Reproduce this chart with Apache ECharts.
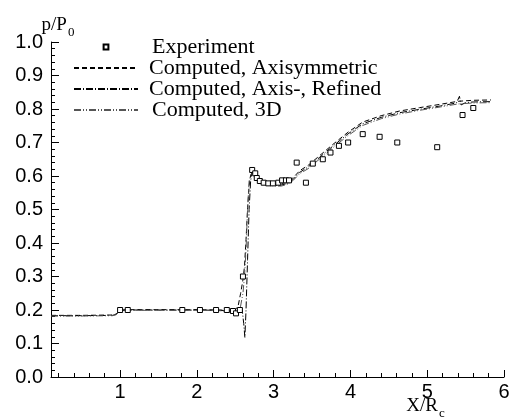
<!DOCTYPE html>
<html>
<head>
<meta charset="utf-8">
<script src="https://cdn.jsdelivr.net/npm/echarts@6/dist/echarts.min.js"></script>
<style>html,body{margin:0;padding:0;background:#fff}#c{width:514px;height:419px}</style>
</head>
<body>
<div id="c"></div>
<script>
// ---- data ----
var xMajorTicks = [1, 2, 3, 4, 5, 6];
var xMinorTicks = [0.2,0.4,0.6,0.8,1.2,1.4,1.6,1.8,2.2,2.4,2.6,2.8,3.2,3.4,3.6,3.8,4.2,4.4,4.6,4.8,5.2,5.4,5.6,5.8];
var seriesNames = ['Experiment', 'Computed, Axisymmetric', 'Computed, Axis-, Refined', 'Computed, 3D'];

var experiment = [
  [1.0,0.2],[1.1,0.2],[1.81,0.2],[2.04,0.2],[2.25,0.2],[2.39,0.2],[2.47,0.197],[2.51,0.19],[2.56,0.2],[2.6,0.3],
  [2.72,0.618],[2.76,0.608],[2.78,0.594],[2.82,0.585],[2.87,0.58],[2.93,0.578],[2.99,0.578],[3.06,0.58],
  [3.11,0.587],[3.16,0.587],[3.2,0.587],[3.3,0.64],[3.42,0.58],[3.51,0.637],[3.64,0.65],[3.74,0.67],
  [3.85,0.69],[3.97,0.70],[4.16,0.725],[4.38,0.717],[4.61,0.70],[5.13,0.686],[5.46,0.782],[5.6,0.803]
];

var axisym = [
  [0.1,0.184],[0.5,0.184],[0.9,0.185],[0.95,0.188],[0.98,0.195],[1.02,0.2],[1.1,0.201],[1.5,0.201],[2.0,0.201],[2.3,0.2],[2.4,0.199],
  [2.45,0.196],[2.5,0.2],[2.54,0.215],[2.57,0.25],[2.6,0.29],[2.62,0.33],[2.64,0.41],[2.66,0.5],[2.68,0.57],[2.7,0.603],
  [2.73,0.612],[2.78,0.597],[2.86,0.582],[3.0,0.576],[3.1,0.577],[3.18,0.583],[3.25,0.594],[3.34,0.616],[3.45,0.632],
  [3.6,0.661],[3.77,0.694],[3.97,0.731],[4.16,0.761],[4.4,0.78],[4.64,0.794],[4.9,0.804],[5.17,0.814],[5.4,0.823],[5.6,0.826],[5.83,0.827]
];

var refined = [
  [0.1,0.183],[0.5,0.183],[0.9,0.184],[0.95,0.187],[0.98,0.194],[1.02,0.199],[1.1,0.2],[1.5,0.2],[2.0,0.2],[2.3,0.199],[2.4,0.197],
  [2.45,0.192],[2.5,0.186],[2.55,0.19],[2.59,0.2],[2.61,0.16],[2.625,0.118],[2.64,0.2],[2.66,0.35],[2.68,0.5],[2.7,0.585],[2.72,0.612],
  [2.76,0.603],[2.82,0.588],[2.9,0.577],[3.0,0.572],[3.1,0.573],[3.18,0.578],[3.25,0.589],[3.34,0.611],[3.45,0.627],
  [3.6,0.656],[3.77,0.689],[3.97,0.726],[4.16,0.756],[4.4,0.775],[4.64,0.789],[4.9,0.799],[5.17,0.809],[5.38,0.818],[5.42,0.838],[5.44,0.812],
  [5.5,0.819],[5.6,0.821],[5.83,0.822]
];

var threeD = [
  [0.1,0.182],[0.5,0.182],[0.9,0.183],[0.95,0.186],[0.98,0.193],[1.02,0.198],[1.1,0.199],[1.5,0.199],[2.0,0.199],[2.3,0.198],[2.4,0.196],
  [2.45,0.193],[2.5,0.19],[2.56,0.2],[2.6,0.25],[2.62,0.3],[2.64,0.38],[2.66,0.5],[2.68,0.585],[2.71,0.608],
  [2.75,0.604],[2.8,0.59],[2.88,0.578],[3.0,0.57],[3.1,0.57],[3.18,0.575],[3.25,0.586],[3.34,0.607],[3.45,0.622],
  [3.6,0.651],[3.77,0.684],[3.97,0.721],[4.16,0.751],[4.4,0.771],[4.64,0.785],[4.9,0.796],[5.17,0.806],[5.4,0.815],[5.6,0.818],[5.83,0.819]
];

var chart = echarts.init(document.getElementById('c'), null, {renderer: 'canvas'});
var sans = 'Liberation Sans';
var serif = 'Liberation Serif';
var hideSym = {opacity: 0};

chart.setOption({
  animation: false,
  backgroundColor: '#fff',
  grid: {left: 51, right: 10, top: 42, bottom: 42, containLabel: false, outerBoundsMode: 'none'},
  legend: {
    orient: 'vertical',
    left: 73, top: 36, padding: 0,
    itemWidth: 64, itemHeight: 6, itemGap: -1,
    textStyle: {fontFamily: serif, fontSize: 22, color: '#000', padding: [0, 0, 0, 6]},
    data: [
      {name: seriesNames[0], textStyle: {padding: [0, 0, 0, 9]}},
      {name: seriesNames[1], itemStyle: hideSym},
      {name: seriesNames[2], itemStyle: hideSym},
      {name: seriesNames[3], itemStyle: hideSym, textStyle: {padding: [0, 0, 0, 9]}}
    ],
    selectedMode: false
  },
  xAxis: [{
    type: 'value', min: 0.1, max: 6.0, position: 'bottom',
    axisLine: {show: true, lineStyle: {color: '#000', width: 1}},
    axisTick: {show: true, inside: true, length: 7, customValues: xMajorTicks, lineStyle: {color: '#000'}},
    axisLabel: {show: true, customValues: xMajorTicks, fontFamily: sans, fontSize: 20, color: '#000', margin: 5},
    splitLine: {show: false},
    name: '{a|X/R}{b|c}',
    nameLocation: 'middle', nameGap: 20, nameMoveOverlap: false,
    nameTextStyle: {padding: [0, 0, 0, 296], rich: {
      a: {fontFamily: serif, fontSize: 19, color: '#000', lineHeight: 20, verticalAlign: 'top'},
      b: {fontFamily: serif, fontSize: 13, color: '#000', lineHeight: 13, padding: [10, 0, 0, 1], verticalAlign: 'top'}
    }}
  }, {
    type: 'value', min: 0.1, max: 6.0, position: 'bottom', offset: 0,
    axisLine: {show: false},
    axisTick: {show: true, inside: true, length: 4, customValues: xMinorTicks, lineStyle: {color: '#000'}},
    axisLabel: {show: false},
    splitLine: {show: false}
  }],
  yAxis: {
    type: 'value', min: 0, max: 1, interval: 0.1,
    axisLine: {show: true, lineStyle: {color: '#000', width: 1}},
    axisTick: {show: true, inside: true, length: 8, lineStyle: {color: '#000'}},
    minorTick: {show: true, splitNumber: 5, length: 4, lineStyle: {color: '#000'}},
    axisLabel: {fontFamily: sans, fontSize: 20, color: '#000', margin: 8, formatter: function (v) { return v.toFixed(1); }},
    splitLine: {show: false},
    name: '{a|p/P}{b|0}',
    nameLocation: 'end', nameGap: 6, nameMoveOverlap: false,
    nameTextStyle: {padding: [0, 0, 0, 14], rich: {
      a: {fontFamily: serif, fontSize: 19, color: '#000', lineHeight: 20, verticalAlign: 'top'},
      b: {fontFamily: serif, fontSize: 13, color: '#000', lineHeight: 13, padding: [10, 0, 0, 1], verticalAlign: 'top'}
    }}
  },
  series: [
    {
      name: seriesNames[0], type: 'line', data: experiment,
      symbol: 'rect', symbolSize: 5, showSymbol: true,
      lineStyle: {width: 0, opacity: 0},
      itemStyle: {color: '#fff', borderColor: '#000', borderWidth: 1},
      z: 5
    },
    {
      name: seriesNames[1], type: 'line', data: axisym, symbol: 'none',
      lineStyle: {color: '#000', width: 1, type: [5, 3]}, itemStyle: {color: '#000'}
    },
    {
      name: seriesNames[2], type: 'line', data: refined, symbol: 'none',
      lineStyle: {color: '#000', width: 1, type: [7, 2, 1, 2]}, itemStyle: {color: '#000'}
    },
    {
      name: seriesNames[3], type: 'line', data: threeD, symbol: 'none',
      lineStyle: {color: '#555', width: 1, type: [7, 2, 1, 2, 1, 2]}, itemStyle: {color: '#555'}
    }
  ]
});
</script>
</body>
</html>
